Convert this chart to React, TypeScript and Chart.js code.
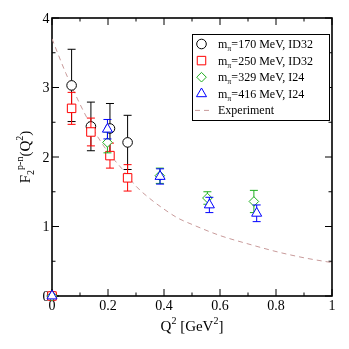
import React, { useEffect, useRef } from "react";
import { Chart, registerables } from "chart.js";
Chart.register(...registerables);

// ---- data ----
const Q2_170 = [0, 0.07, 0.139, 0.207, 0.27];
const F2_170 = [0, 3.03, 2.44, 2.41, 2.21];
const ERR_170 = [0, 0.52, 0.35, 0.36, 0.39];

const Q2_250 = [0, 0.07, 0.139, 0.207, 0.27];
const F2_250 = [0, 2.7, 2.36, 2.02, 1.7];
const ERR_250 = [0, 0.23, 0.2, 0.18, 0.19];

const Q2_329 = [0, 0.198, 0.385, 0.555, 0.721];
const F2_329 = [0, 2.21, 1.73, 1.41, 1.36];
const ERR_329 = [0, 0.15, 0.11, 0.09, 0.16];

const Q2_416 = [0, 0.198, 0.386, 0.562, 0.731];
const F2_416 = [0, 2.4, 1.72, 1.31, 1.19];
const ERR_416 = [0, 0.14, 0.11, 0.11, 0.12];

const EXP_Q2 = [0, 0.05, 0.1, 0.15, 0.2, 0.25, 0.3, 0.35, 0.4, 0.45, 0.5, 0.6, 0.7, 0.8, 0.9, 1.0];
const EXP_F2 = [3.7, 3.2, 2.76, 2.38, 2.07, 1.83, 1.58, 1.4, 1.25, 1.12, 1.03, 0.87, 0.75, 0.64, 0.55, 0.48];

const X_MAJOR = [0, 0.2, 0.4, 0.6, 0.8, 1];
const X_LABELS = ["0", "0.2", "0.4", "0.6", "0.8", "1"];
const X_MINOR = [0.1, 0.3, 0.5, 0.7, 0.9];
const Y_MAJOR = [0, 1, 2, 3, 4];
const Y_LABELS = ["0", "1", "2", "3", "4"];
const Y_MINOR = [0.5, 1.5, 2.5, 3.5];

const LEGEND_TEXT = ["=170 MeV, ID32", "=250 MeV, ID32", "=329 MeV, I24", "=416 MeV, I24", "Experiment"];

const SERIF = '"Liberation Serif", "Times New Roman", serif';
const BLACK = "#000000";
const RED = "#ff0000";
const GREEN = "#1fae1f";
const BLUE = "#0000ff";
const EXP_COLOR = "#c89a9a";

type Seg = { t: string; size: number; dy: number };

function drawSegs(ctx: CanvasRenderingContext2D, segs: Seg[], x: number, y: number, align: "left" | "center") {
  let total = 0;
  for (const s of segs) {
    ctx.font = `${s.size}px ${SERIF}`;
    total += ctx.measureText(s.t).width;
  }
  let cx = align === "center" ? x - total / 2 : x;
  ctx.textAlign = "left";
  ctx.textBaseline = "alphabetic";
  for (const s of segs) {
    ctx.font = `${s.size}px ${SERIF}`;
    ctx.fillText(s.t, cx, y + s.dy);
    cx += ctx.measureText(s.t).width;
  }
}

function drawSymbol(ctx: CanvasRenderingContext2D, style: string, x: number, y: number, r: number, color: string) {
  ctx.save();
  ctx.strokeStyle = color;
  ctx.fillStyle = "#ffffff";
  ctx.lineWidth = 1;
  ctx.beginPath();
  if (style === "circle") {
    ctx.arc(x, y, r, 0, Math.PI * 2);
  } else if (style === "rect") {
    const s = Math.SQRT1_2 * r;
    ctx.rect(x - s, y - s, 2 * s, 2 * s);
  } else if (style === "rectRot") {
    ctx.moveTo(x - r, y);
    ctx.lineTo(x, y - r);
    ctx.lineTo(x + r, y);
    ctx.lineTo(x, y + r);
    ctx.closePath();
  } else if (style === "triangle") {
    let a = 0;
    ctx.moveTo(x + Math.sin(a) * r, y - Math.cos(a) * r);
    a += (2 * Math.PI) / 3;
    ctx.lineTo(x + Math.sin(a) * r, y - Math.cos(a) * r);
    a += (2 * Math.PI) / 3;
    ctx.lineTo(x + Math.sin(a) * r, y - Math.cos(a) * r);
    ctx.closePath();
  }
  ctx.fill();
  ctx.stroke();
  ctx.restore();
}

const errorBarPlugin = {
  id: "errorBars",
  beforeDatasetDraw(chart: any, args: any) {
    const ds = chart.data.datasets[args.index];
    if (!ds.errors) return;
    const ctx = chart.ctx as CanvasRenderingContext2D;
    const xs = chart.scales.x;
    const ys = chart.scales.y;
    ctx.save();
    ctx.strokeStyle = ds.borderColor;
    ctx.lineWidth = 1;
    ds.data.forEach((p: any, i: number) => {
      const e = ds.errors[i];
      if (!e) return;
      const px = xs.getPixelForValue(p.x);
      const top = ys.getPixelForValue(p.y + e);
      const bot = ys.getPixelForValue(p.y - e);
      ctx.beginPath();
      ctx.moveTo(px, top);
      ctx.lineTo(px, bot);
      ctx.moveTo(px - 4, top);
      ctx.lineTo(px + 4, top);
      ctx.moveTo(px - 4, bot);
      ctx.lineTo(px + 4, bot);
      ctx.stroke();
    });
    ctx.restore();
  },
};

const framePlugin = {
  id: "frame",
  beforeDatasetsDraw(chart: any) {
    const ctx = chart.ctx as CanvasRenderingContext2D;
    const { left, right, top, bottom } = chart.chartArea;
    const xs = chart.scales.x;
    const ys = chart.scales.y;
    ctx.save();
    ctx.strokeStyle = "#000";
    ctx.lineWidth = 1.6;
    ctx.strokeRect(left, top, right - left, bottom - top);
    ctx.lineWidth = 1;
    ctx.beginPath();
    const tick = (v: number, len: number, axis: "x" | "y") => {
      if (axis === "x") {
        const p = xs.getPixelForValue(v);
        ctx.moveTo(p, bottom);
        ctx.lineTo(p, bottom - len);
        ctx.moveTo(p, top);
        ctx.lineTo(p, top + len);
      } else {
        const p = ys.getPixelForValue(v);
        ctx.moveTo(left, p);
        ctx.lineTo(left + len, p);
        ctx.moveTo(right, p);
        ctx.lineTo(right - len, p);
      }
    };
    X_MAJOR.forEach((v) => tick(v, 7, "x"));
    X_MINOR.forEach((v) => tick(v, 3.5, "x"));
    Y_MAJOR.forEach((v) => tick(v, 7, "y"));
    Y_MINOR.forEach((v) => tick(v, 3.5, "y"));
    ctx.stroke();

    ctx.fillStyle = "#000";
    ctx.font = `14px ${SERIF}`;
    ctx.textBaseline = "alphabetic";
    ctx.textAlign = "center";
    X_MAJOR.forEach((v, i) => ctx.fillText(X_LABELS[i], xs.getPixelForValue(v), bottom + 14));
    ctx.textAlign = "right";
    Y_MAJOR.forEach((v, i) => ctx.fillText(Y_LABELS[i], left - 2.5, ys.getPixelForValue(v) + 4.8));

    // axis titles
    drawSegs(
      ctx,
      [
        { t: "Q", size: 15, dy: 0 },
        { t: "2", size: 10, dy: -7 },
        { t: " [GeV", size: 15, dy: 0 },
        { t: "2", size: 10, dy: -7 },
        { t: "]", size: 15, dy: 0 },
      ],
      (left + right) / 2,
      331,
      "center"
    );
    ctx.save();
    ctx.translate(30, (top + bottom) / 2);
    ctx.rotate(-Math.PI / 2);
    drawSegs(
      ctx,
      [
        { t: "F", size: 15, dy: 0 },
        { t: "2", size: 10, dy: 4 },
        { t: "p-n", size: 10, dy: -7 },
        { t: "(Q", size: 15, dy: 0 },
        { t: "2", size: 10, dy: -7 },
        { t: ")", size: 15, dy: 0 },
      ],
      0,
      0,
      "center"
    );
    ctx.restore();
    ctx.restore();
  },
};

const legendPlugin = {
  id: "customLegend",
  afterDraw(chart: any) {
    const ctx = chart.ctx as CanvasRenderingContext2D;
    const bx = 192, by = 34, bw = 137, bh = 86;
    ctx.save();
    ctx.fillStyle = "#fff";
    ctx.fillRect(bx, by, bw, bh);
    ctx.strokeStyle = "#000";
    ctx.lineWidth = 1;
    ctx.strokeRect(bx + 0.5, by + 0.5, bw, bh);
    const rows = [44, 60.6, 77.2, 93.8, 110.4];
    const styles = [
      { s: "circle", r: 4.8, c: BLACK },
      { s: "rect", r: 6, c: RED },
      { s: "rectRot", r: 4.8, c: GREEN },
      { s: "triangle", r: 5.8, c: BLUE },
    ];
    ctx.fillStyle = "#000";
    LEGEND_TEXT.forEach((txt, i) => {
      const y = rows[i];
      if (i < 4) {
        drawSymbol(ctx, styles[i].s, 201.5, y, styles[i].r, styles[i].c);
        drawSegs(
          ctx,
          [
            { t: "m", size: 12, dy: 0 },
            { t: "\u03c0", size: 8, dy: 3 },
            { t: txt, size: 12, dy: 0 },
          ],
          218,
          y + 4,
          "left"
        );
      } else {
        ctx.save();
        ctx.strokeStyle = EXP_COLOR;
        ctx.setLineDash([5, 4]);
        ctx.beginPath();
        ctx.moveTo(195, y);
        ctx.lineTo(211, y);
        ctx.stroke();
        ctx.restore();
        drawSegs(ctx, [{ t: txt, size: 12, dy: 0 }], 218, y + 4, "left");
      }
    });
    ctx.restore();
  },
};

function pts(xs: number[], ys: number[]) {
  return xs.map((x, i) => ({ x, y: ys[i] }));
}

export default function App() {
  const ref = useRef<HTMLCanvasElement | null>(null);
  useEffect(() => {
    document.body.style.margin = "0";
    const canvas = ref.current;
    if (!canvas) return;
    const mk = (data: any, errors: number[], color: string, style: string, r: number, order: number) => ({
      type: "scatter",
      data,
      errors,
      borderColor: color,
      backgroundColor: "#ffffff",
      pointStyle: style,
      pointRadius: r,
      pointHoverRadius: r,
      pointBorderWidth: 1,
      showLine: false,
      clip: false,
      order,
    });
    const chart = new Chart(canvas, {
      type: "scatter",
      data: {
        datasets: [
          {
            type: "line",
            data: pts(EXP_Q2, EXP_F2),
            borderColor: EXP_COLOR,
            borderWidth: 1,
            borderDash: [5, 4],
            pointRadius: 0,
            cubicInterpolationMode: "monotone",
            fill: false,
            order: 10,
          } as any,
          mk(pts(Q2_170, F2_170), ERR_170, BLACK, "circle", 4.8, 4) as any,
          mk(pts(Q2_250, F2_250), ERR_250, RED, "rect", 6, 3) as any,
          mk(pts(Q2_329, F2_329), ERR_329, GREEN, "rectRot", 4.8, 2) as any,
          mk(pts(Q2_416, F2_416), ERR_416, BLUE, "triangle", 5.8, 1) as any,
        ],
      },
      options: {
        responsive: false,
        animation: false,
        events: [],
        layout: { padding: { left: 52, right: 17, top: 18, bottom: 53 } },
        scales: {
          x: { type: "linear", min: 0, max: 1, display: false },
          y: { type: "linear", min: 0, max: 4, display: false },
        },
        plugins: { legend: { display: false }, tooltip: { enabled: false } },
      },
      plugins: [framePlugin, errorBarPlugin, legendPlugin],
    } as any);
    return () => chart.destroy();
  }, []);
  return (
    <div style={{ width: 349, height: 349, background: "#fff" }}>
      <canvas ref={ref} width={349} height={349} style={{ display: "block" }} />
    </div>
  );
}
